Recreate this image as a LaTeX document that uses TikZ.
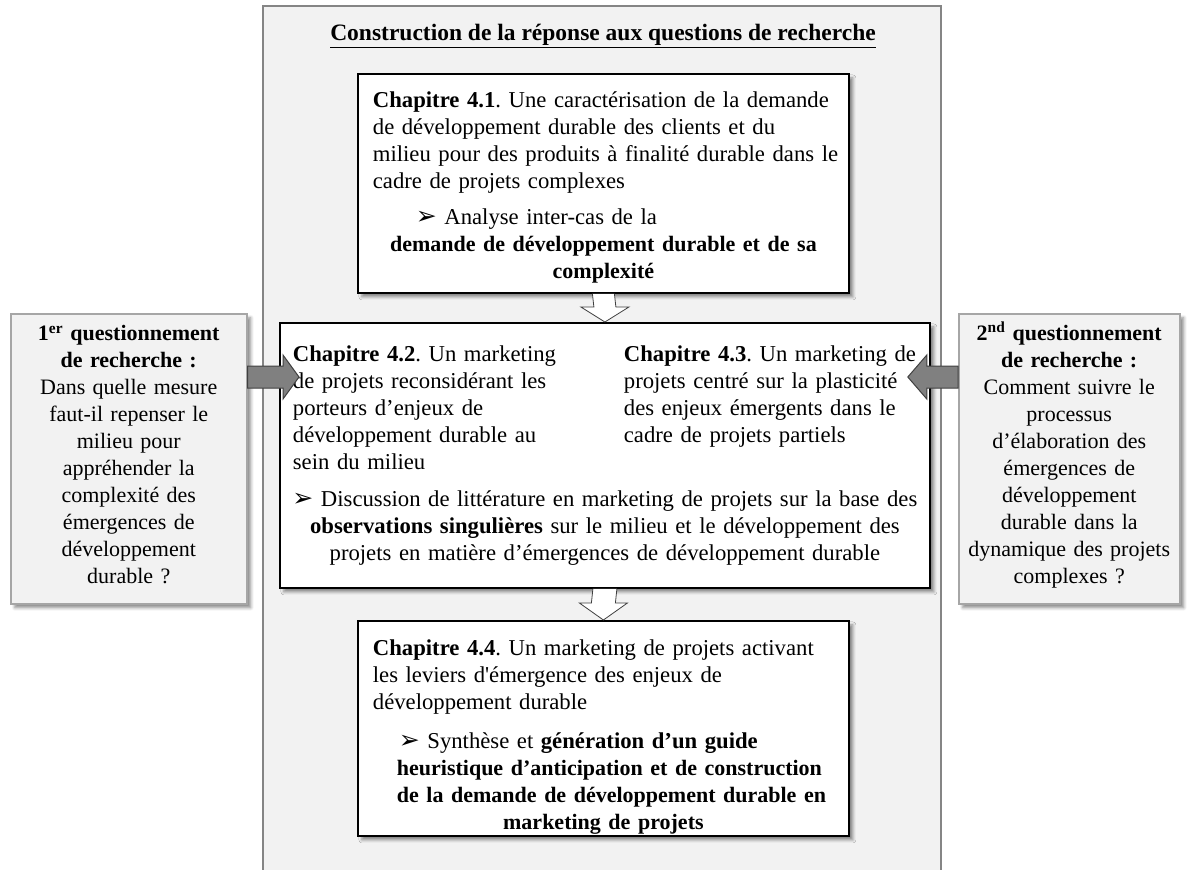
\documentclass[tikz,border=0pt]{standalone}
\usepackage{fontspec}
\setmainfont{Liberation Serif}
\newfontfamily\dingfont{DejaVu Sans}
\usetikzlibrary{calc,shadows.blur}
\definecolor{panelgray}{HTML}{F2F2F2}
\definecolor{framegray}{HTML}{858585}
\definecolor{questframe}{HTML}{A6A6A6}
\definecolor{arrowgray}{HTML}{808080}
\newcommand{\puce}{{\dingfont\fontsize{25}{27}\selectfont\char"27A2}}
\newcommand{\ligne}[1]{\makebox[\linewidth][l]{#1}\par}
\newcommand{\lignec}[1]{\makebox[\linewidth][c]{#1}\par}
\newcommand{\gras}{\fontsize{22}{27}\selectfont\bfseries}
\frenchspacing
\begin{document}
\begin{tikzpicture}[x=1pt,y=-1pt,
  every node/.style={font=\fontsize{22.7}{27}\selectfont,inner sep=0pt},
  ombre/.style={blur shadow={shadow xshift=4pt,shadow yshift=-4pt,shadow blur radius=3pt,shadow opacity=45}},
  chapbox/.style={draw=black,line width=1.8pt,fill=white,align=left,inner xsep=15pt,anchor=north west,ombre},
  questbox/.style={draw=questframe,line width=1.5pt,fill=panelgray,align=center,anchor=north west,ombre,
    font=\fontsize{22}{27}\selectfont},
  grayarrow/.style={fill=arrowgray,draw=black!75,line width=1pt},
  whitearrow/.style={fill=white,draw=black!75,line width=0.8pt}]
  \useasboundingbox (0,0) rectangle (1189,870);
  \draw[draw=framegray,line width=2.5pt,fill=panelgray] (263,6) rectangle (941,890);
  \node[font=\fontsize{23.5}{27}\selectfont] (titre) at (603,36) {\bfseries\underline{Construction de la réponse aux questions de recherche}};
  % chapitres
  \node[chapbox,text width=461pt,minimum height=219pt] (chapA) at (357,73) {%
    \ligne{\textbf{Chapitre 4.1}. Une caractérisation de la demande}
    \ligne{de développement durable des clients et du}
    \ligne{milieu pour des produits à finalité durable dans le}
    \ligne{cadre de projets complexes}
    \vspace{9pt}
    \ligne{\hspace*{43pt}\puce\ Analyse inter-cas de la}
    \lignec{\gras demande de développement durable et de sa}
    \lignec{\gras complexité}
    \kern-8pt};
  \node[chapbox,inner xsep=13pt,text width=624pt,minimum height=265pt] (chapBC) at (279,322) {%
    \ligne{\makebox[331pt][l]{\textbf{Chapitre 4.2}. Un marketing}\textbf{Chapitre 4.3}. Un marketing de}
    \ligne{\makebox[331pt][l]{de projets reconsidérant les}projets centré sur la plasticité}
    \ligne{\makebox[331pt][l]{porteurs d’enjeux de}des enjeux émergents dans le}
    \ligne{\makebox[331pt][l]{développement durable au}cadre de projets partiels}
    \ligne{sein du milieu}
    \vspace{10pt}
    \lignec{\puce\ Discussion de littérature en marketing de projets sur la base des}
    \lignec{\textbf{observations singulières} sur le milieu et le développement des}
    \lignec{projets en matière d’émergences de développement durable}};
  \node[chapbox,text width=461pt,minimum height=215pt] (chapD) at (357,620) {%
    \ligne{\textbf{Chapitre 4.4}. Un marketing de projets activant}
    \ligne{les leviers d\textquotesingle émergence des enjeux de}
    \ligne{développement durable}
    \vspace{12pt}
    \ligne{\hspace*{26pt}\puce\ Synthèse et \textbf{génération d’un guide}}
    \ligne{\hspace*{24pt}\gras heuristique d’anticipation et de construction}
    \ligne{\hspace*{24pt}\gras de la demande de développement durable en}
    \lignec{\gras marketing de projets}
    \kern-18pt};
  % questionnements
  \node[questbox,text width=236pt,minimum height=290pt] (questA) at (10,313) {%
    \lignec{\bfseries 1\textsuperscript{er} questionnement}
    \lignec{\bfseries de recherche :}
    \lignec{Dans quelle mesure}
    \lignec{faut-il repenser le}
    \lignec{milieu pour}
    \lignec{appréhender la}
    \lignec{complexité des}
    \lignec{émergences de}
    \lignec{développement}
    \lignec{durable ?}
    \kern8pt};
  \node[questbox,text width=221pt,minimum height=290pt] (questB) at (958,313) {%
    \lignec{\bfseries 2\textsuperscript{nd} questionnement}
    \lignec{\bfseries de recherche :}
    \lignec{Comment suivre le}
    \lignec{processus}
    \lignec{d’élaboration des}
    \lignec{émergences de}
    \lignec{développement}
    \lignec{durable dans la}
    \lignec{dynamique des projets}
    \lignec{complexes ?}
    \kern8pt};
  % fleches
  \coordinate (pointeA) at ($(chapBC.west |- 0,377)+(20,0)$);
  \coordinate (pointeB) at ($(chapBC.east |- 0,377)+(-23,0)$);
  \draw[grayarrow] (questA.east |- 0,366) -- ($(pointeA)+(-16,-11)$) -- ($(pointeA)+(-16,-22)$) -- (pointeA)
    -- ($(pointeA)+(-16,22)$) -- ($(pointeA)+(-16,11)$) -- (questA.east |- 0,388) -- cycle;
  \draw[grayarrow] (questB.west |- 0,366) -- ($(pointeB)+(19,-11)$) -- ($(pointeB)+(19,-22)$) -- (pointeB)
    -- ($(pointeB)+(19,22)$) -- ($(pointeB)+(19,11)$) -- (questB.west |- 0,388) -- cycle;
  \draw[whitearrow] ($(chapA.south)+(-11,0)$) -- ($(chapBC.north)+(-11,-15)$) -- ($(chapBC.north)+(-24,-15)$)
    -- (chapBC.north) -- ($(chapBC.north)+(24,-15)$) -- ($(chapBC.north)+(11,-15)$) -- ($(chapA.south)+(11,0)$);
  \draw[whitearrow] ($(chapBC.south)+(-12,0)$) -- ($(chapD.north)+(-12,-17)$) -- ($(chapD.north)+(-24,-17)$)
    -- (chapD.north) -- ($(chapD.north)+(24,-17)$) -- ($(chapD.north)+(12,-17)$) -- ($(chapBC.south)+(12,0)$);
\end{tikzpicture}
\end{document}
